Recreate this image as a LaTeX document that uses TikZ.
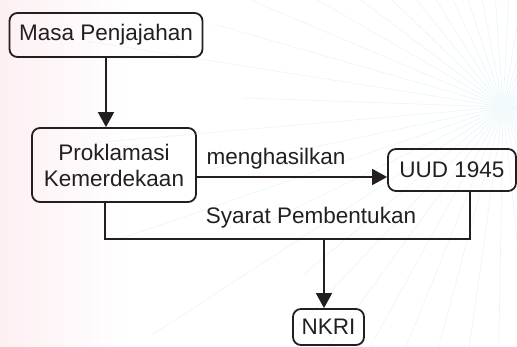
\documentclass[tikz,border=0pt]{standalone}
\usepackage{fontspec}
\setmainfont{Liberation Sans}
\usetikzlibrary{arrows.meta,calc}
\definecolor{ray}{HTML}{E6F5FA}
\definecolor{pinkbg}{HTML}{FDF0F3}
\definecolor{ink}{HTML}{231F20}
\begin{document}
\begin{tikzpicture}[x=1pt,y=-1pt,
  box/.style={draw=ink, line width=1.8pt, rounded corners=8pt, align=center,
    font=\fontsize{22.5}{26}\selectfont, inner sep=0pt, text=ink},
  conn/.style={draw=ink, line width=1.8pt, -{Triangle[length=15pt,width=16pt]}},
  plain/.style={draw=ink, line width=1.8pt},
  lbl/.style={font=\fontsize{22.5}{26}\selectfont, text=ink, inner sep=0pt}]
\useasboundingbox (0,0) rectangle (517,347);
% background
\fill[left color=pinkbg, right color=white] (0,0) rectangle (130,347);
\begin{scope}
\clip (0,0) rectangle (517,347);
\foreach \a/\r in {0/200,7/260,14/230,21/300,28/250,35/330,42/280,49/360,56/300,63/380,70/320,77/400,84/340,91/380,98/310,105/420,112/350,119/430,126/330,133/300,140/260,147/420,154/280,161/410,168/300,175/410,182/260,189/420,196/300,203/380,210/260,217/330,224/240,231/300,238/220,245/260,252/200,259/240,266/180,273/200,280/180,287/220,294/200,301/240,308/200,315/220,322/190,329/230,336/200,343/240,350/210,357/220}
  \draw[ray, line width=0.6pt] (503,107) -- ++({\r*cos(\a)},{\r*sin(\a)});
\fill[ray!50] (503,107) circle (10pt);
\end{scope}
% nodes
\node[box, minimum width=193pt, minimum height=44pt] (m) at (106,35) {Masa Penjajahan};
\node[box, minimum width=164pt, minimum height=74pt] (p) at (114,165) {Proklamasi\\Kemerdekaan};
\node[box, minimum width=128pt, minimum height=42pt] (u) at (452,170) {UUD 1945};
\node[box, minimum width=71pt, minimum height=36pt] (n) at (328.5,327) {NKRI};
\coordinate (a1) at (196,177);
\coordinate (j1) at (105,239);
\coordinate (j2) at (470,239);
\coordinate (jm) at (324,239);
% connectors
\draw[conn] (m.south) -- (m.south |- p.north);
\draw[conn] (p.east |- a1) -- (u.west |- a1);
\draw[plain] (p.south -| j1) -- (j1) -- (j2) -- (u.south -| j2);
\draw[conn] (jm) -- (jm |- n.north);
% labels
\node[lbl] (l1) at (276,159) {menghasilkan};
\node[lbl] (l2) at (311,218) {Syarat Pembentukan};
\end{tikzpicture}
\end{document}
